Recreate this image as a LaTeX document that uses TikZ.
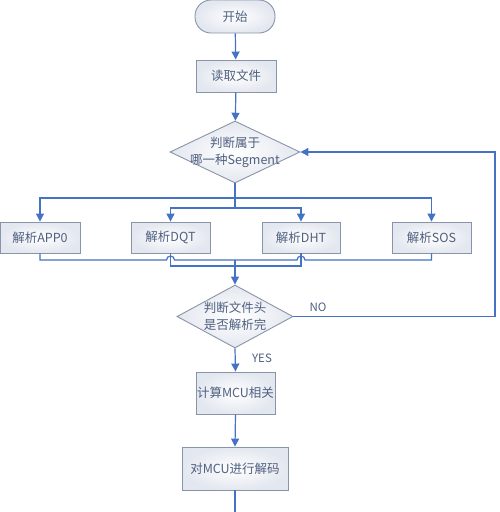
\documentclass[tikz,border=0pt]{standalone}
\usepackage{fontspec}
\setmainfont{Noto Sans CJK SC}
\usetikzlibrary{shapes.geometric,arrows.meta,calc}
\definecolor{ln}{HTML}{4472C4}
\definecolor{bd}{HTML}{8A94A8}
\definecolor{tx}{HTML}{4F6080}
\definecolor{sh}{HTML}{E3E7EF}
\tikzset{
  box/.style={draw=bd, line width=0.9pt, inner color=white, outer color=sh, text=tx, font=\fontsize{12.5}{14}\selectfont, inner sep=0pt, align=center},
  term/.style={box, rounded corners=16pt},
  dia/.style={diamond, draw=bd, line width=0.9pt, inner color=white, outer color=sh, inner sep=0pt},
  dtext/.style={text=tx, font=\fontsize{12.5}{17}\selectfont, align=center, inner sep=0pt},
  lbl/.style={text=tx, font=\fontsize{11.5}{13}\selectfont, inner sep=0pt},
  con/.style={draw=ln, line width=1.2pt},
  arr/.style={con, -{Triangle[length=8pt,width=8pt]}}
}
\begin{document}
\begin{tikzpicture}[x=1pt,y=-1pt]
\useasboundingbox (0,0) rectangle (500,512);
% nodes
\node[term, minimum width=80pt, minimum height=33pt] (start) at (235,16.5) {开始};
\node[box, minimum width=80pt, minimum height=32pt] (read) at (236,76) {读取文件};
\node[dia, minimum width=130pt, minimum height=62pt] (d1) at (235,152) {};
\node[dtext] (d1t) at (235,152) {判断属于\\哪一种Segment};
\node[box, minimum width=80pt, minimum height=31pt] (app) at (40,237.5) {解析APP0};
\node[box, minimum width=79pt, minimum height=31pt] (dqt) at (170.5,237.5) {解析DQT};
\node[box, minimum width=78pt, minimum height=31pt] (dht) at (301,237.5) {解析DHT};
\node[box, minimum width=79pt, minimum height=31pt] (sos) at (431.5,237.5) {解析SOS};
\node[dia, minimum width=116pt, minimum height=63pt] (d2) at (235,316.5) {};
\node[dtext] (d2t) at (235,316.5) {判断文件头\\是否解析完};
\node[box, minimum width=79pt, minimum height=42pt] (calc) at (235.5,393) {计算MCU相关};
\node[box, minimum width=106pt, minimum height=43pt] (dec) at (235,468.5) {对MCU进行解码};
\node[lbl] (no) at (318,307) {NO};
\node[lbl] (yes) at (262,358) {YES};
% coordinates
\coordinate (b1) at (235,198);
\coordinate (b2) at (235,208);
\coordinate (m1) at (235,260);
\coordinate (m2) at (235,266);
\coordinate (rt) at (495,316.5);
\coordinate (end) at (235,512);
% connectors
\draw[arr] (start) -- (read);
\draw[arr] (read) -- (d1);
\draw[con] (d1.south) -- (b2);
\draw[arr] (b1) -| (app.north);
\draw[arr] (b1) -| (sos.north);
\draw[arr] (b2) -| (dqt.north);
\draw[arr] (b2) -| (dht.north);
\draw[con] (app.south) |- ($(dqt.south |- m1)+(-4,0)$) arc[start angle=180,end angle=0,radius=4pt]
  -- ($(dht.south |- m1)+(-4,0)$) arc[start angle=180,end angle=0,radius=4pt] -| (sos.south);
\draw[con] (dqt.south) |- (m2) -| (dht.south);
\draw[arr] (m1) -- (d2.north);
\draw[arr] (d2.east) -- (rt) |- (d1.east);
\draw[arr] (d2.south) -- (calc.north);
\draw[arr] (calc.south) -- (dec.north);
\draw[con] (dec.south) -- (end);
\end{tikzpicture}
\end{document}
